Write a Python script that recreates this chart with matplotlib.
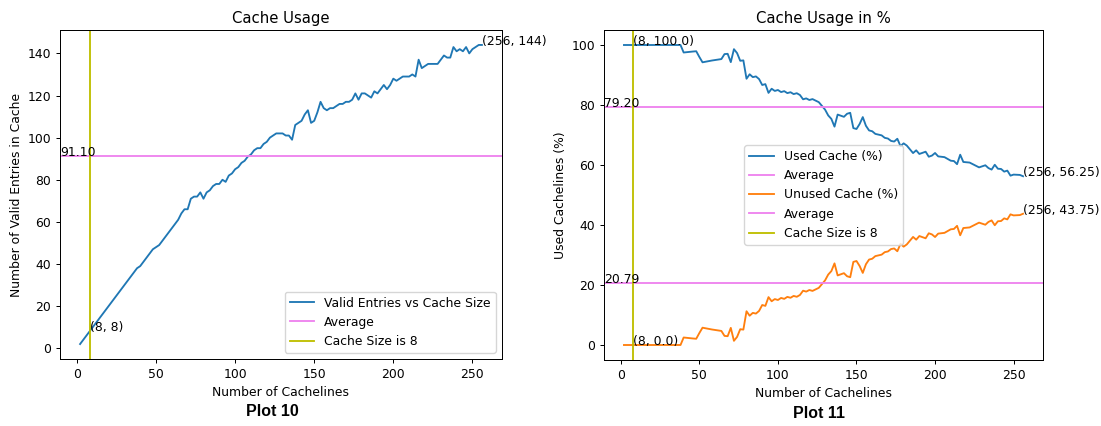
import matplotlib
matplotlib.use("Agg")
import matplotlib.pyplot as plt

# ---------------- data ----------------
cache_lines = list(range(2, 257, 2))

valid_entries = [
    2, 4, 6, 8, 10, 12, 14, 16, 18, 20, 22, 24, 26, 28, 30, 32, 34, 36, 38,
    39, 41, 43, 45, 47, 48, 49, 51, 53, 55, 57, 59, 61, 64, 66, 66, 71, 72, 72, 74,
    71, 74, 75, 77, 78, 78, 80, 79, 82, 83, 85, 86, 88, 89, 91, 92, 94, 95, 95, 97,
    98, 100, 101, 102, 102, 102, 101, 101, 99, 106, 107, 108, 111, 113, 107, 108, 112, 117,
    114, 113, 114, 114, 115, 116, 116, 117, 117, 118, 121, 118, 121, 121, 120, 119, 122,
    121, 123, 125, 123, 125, 128, 127, 128, 129, 129, 129, 130, 129, 137, 133, 134, 135,
    135, 135, 135, 137, 139, 138, 138, 143, 141, 142, 141, 143, 140, 142, 143, 144, 144,
]

used_pct = [
    100, 100, 100, 100, 100, 100, 100, 100, 100, 100, 100, 100, 100, 100, 100, 100, 100, 100, 100,
    97.5, 97.62, 97.73, 97.83, 97.92, 96.0, 94.23, 94.44, 94.64, 94.83, 95.0, 95.16, 95.31,
    96.97, 97.06, 94.29, 98.61, 97.3, 94.74, 94.87,
    88.75, 90.24, 89.29, 89.53, 88.64, 86.67, 86.96, 84.04, 85.42, 84.69, 85.0, 84.31, 84.62,
    83.96, 84.26, 83.64, 83.93, 83.33, 81.9, 82.2, 81.67, 81.97, 81.45, 80.95, 79.69, 78.46,
    76.52, 75.37, 72.79, 76.81, 76.43, 76.06, 77.08, 77.4, 72.3, 72.0, 73.68, 75.97,
    73.08, 71.52, 71.25, 70.37, 70.12, 69.88, 69.05, 68.82, 68.02, 67.82, 68.75, 66.29,
    67.22, 66.48, 65.22, 63.98, 64.89, 63.68, 64.06, 64.43, 62.76, 63.13, 64.0, 62.87,
    62.75, 62.62, 62.02, 61.43, 61.32, 60.28, 63.43, 61.01, 60.91, 60.81, 60.27, 59.73,
    59.21, 59.57, 59.91, 58.97, 58.47, 60.08, 58.75, 58.68, 57.79, 58.13, 56.45, 56.8,
    56.75, 56.69, 56.25,
]

unused_pct = [
    0, 0, 0, 0, 0, 0, 0, 0, 0, 0, 0, 0, 0, 0, 0, 0, 0, 0, 0,
    2.5, 2.38, 2.27, 2.17, 2.08, 4.0, 5.77, 5.56, 5.36, 5.17, 5.0, 4.84, 4.69,
    3.03, 2.94, 5.71, 1.39, 2.7, 5.26, 5.13,
    11.25, 9.76, 10.71, 10.47, 11.36, 13.33, 13.04, 15.96, 14.58, 15.31, 15.0, 15.69, 15.38,
    16.04, 15.74, 16.36, 16.07, 16.67, 18.1, 17.8, 18.33, 18.03, 18.55, 19.05, 20.31, 21.54,
    23.48, 24.63, 27.21, 23.19, 23.57, 23.94, 22.92, 22.6, 27.7, 28.0, 26.32, 24.03,
    26.92, 28.48, 28.75, 29.63, 29.88, 30.12, 30.95, 31.18, 31.98, 32.18, 31.25, 33.71,
    32.78, 33.52, 34.78, 36.02, 35.11, 36.32, 35.94, 35.57, 37.24, 36.87, 36.0, 37.13,
    37.25, 37.38, 37.98, 38.57, 38.68, 39.72, 36.57, 38.99, 39.09, 39.19, 39.73, 40.27,
    40.79, 40.43, 40.09, 41.03, 41.53, 39.92, 41.25, 41.32, 42.21, 41.87, 43.55, 43.2,
    43.25, 43.31, 43.75,
]

avg_valid = 91.10
avg_used = 79.20
avg_unused = 20.79
cache_size = 8

# ---------------- figure ----------------
S = 0.89  # scale of the screenshot relative to default matplotlib
plt.rcParams['font.family'] = ['DejaVu Sans']
FS = 10 * S
plt.rcParams['font.size'] = FS
plt.rcParams['lines.linewidth'] = 1.5 * S
plt.rcParams['axes.linewidth'] = 0.8 * S
for a in ('xtick', 'ytick'):
    plt.rcParams[f'{a}.major.size'] = 3.5 * S
    plt.rcParams[f'{a}.major.pad'] = 3.5 * S
    plt.rcParams[f'{a}.major.width'] = 0.8 * S
plt.rcParams['axes.labelpad'] = 4.0 * S
plt.rcParams['axes.titlepad'] = 6.0 * S

fig = plt.figure(figsize=(11.01, 4.26), dpi=100)
W, H = 1101, 426

def axes_px(l, r, t, b):
    return fig.add_axes([l / W, (H - b) / H, (r - l) / W, (b - t) / H])

# ---- left plot ----
ax1 = axes_px(60, 502, 30, 359)
ax1.plot(cache_lines, valid_entries, color='tab:blue', label='Valid Entries vs Cache Size')
ax1.axhline(avg_valid, color='violet', label='Average')
ax1.axvline(cache_size, color='y', label='Cache Size is 8')
ax1.text(ax1.get_xlim()[0], avg_valid, f'{avg_valid:.2f}', fontsize=FS)
i8 = cache_lines.index(cache_size)
ax1.annotate(f'({cache_lines[i8]}, {valid_entries[i8]})', (cache_lines[i8], valid_entries[i8]), fontsize=FS)
ax1.annotate(f'({cache_lines[-1]}, {valid_entries[-1]})', (cache_lines[-1], valid_entries[-1]), fontsize=FS)
ax1.set_title('Cache Usage', fontsize=12 * S)
ax1.set_xlabel('Number of Cachelines', fontsize=FS)
ax1.set_ylabel('Number of Valid Entries in Cache', fontsize=FS)
ax1.tick_params(labelsize=FS)
ax1.legend(loc='lower right', fontsize=FS)

# ---- right plot ----
ax2 = axes_px(604, 1043, 30, 360)
ax2.plot(cache_lines, used_pct, color='tab:blue', label='Used Cache (%)')
ax2.axhline(avg_used, color='violet', label='Average')
ax2.plot(cache_lines, unused_pct, color='tab:orange', label='Unused Cache (%)')
ax2.axhline(avg_unused, color='violet', label='Average')
ax2.axvline(cache_size, color='y', label='Cache Size is 8')
ax2.text(ax2.get_xlim()[0], avg_used, f'{avg_used:.2f}', fontsize=FS)
ax2.text(ax2.get_xlim()[0], avg_unused, f'{avg_unused:.2f}', fontsize=FS)
ax2.annotate(f'({cache_lines[i8]}, {float(used_pct[i8])})', (cache_lines[i8], used_pct[i8]), fontsize=FS)
ax2.annotate(f'({cache_lines[-1]}, {used_pct[-1]})', (cache_lines[-1], used_pct[-1]), fontsize=FS)
ax2.annotate(f'({cache_lines[i8]}, {float(unused_pct[i8])})', (cache_lines[i8], unused_pct[i8]), fontsize=FS)
ax2.annotate(f'({cache_lines[-1]}, {unused_pct[-1]})', (cache_lines[-1], unused_pct[-1]), fontsize=FS)
ax2.set_title('Cache Usage in %', fontsize=12 * S)
ax2.set_xlabel('Number of Cachelines', fontsize=FS)
ax2.set_ylabel('Used Cachelines (%)', fontsize=FS)
ax2.tick_params(labelsize=FS)
ax2.legend(loc='center', fontsize=FS)

# captions
fig.text(272 / W, 1 - 412 / H, 'Plot 10', ha='center', va='center',
         fontsize=11.5, fontweight='bold', family='Liberation Sans')
fig.text(819 / W, 1 - 414 / H, 'Plot 11', ha='center', va='center',
         fontsize=11.5, fontweight='bold', family='Liberation Sans')

fig.savefig('out.png', dpi=100)
